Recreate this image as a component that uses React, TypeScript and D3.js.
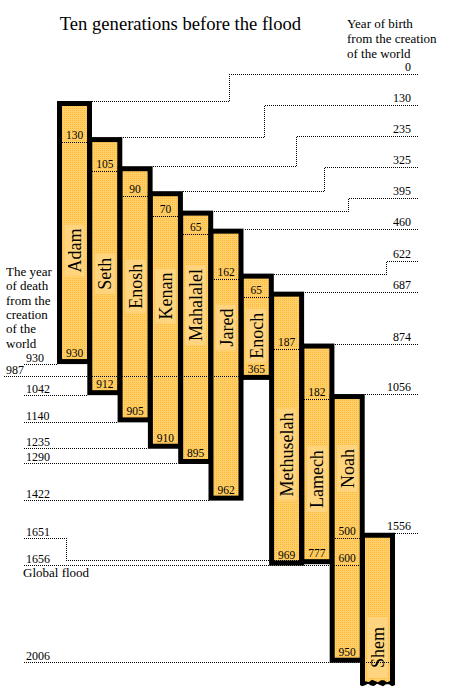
import React from "react";
import * as d3 from "d3";

// ---- data ----
const names = ["Adam", "Seth", "Enosh", "Kenan", "Mahalalel", "Jared", "Enoch", "Methuselah", "Lamech", "Noah", "Shem"];
const birthYears = [0, 130, 235, 325, 395, 460, 622, 687, 874, 1056, 1556];
const lifespans: (number | null)[] = [930, 912, 905, 910, 895, 962, 365, 969, 777, 950, null];
const ageAtSonBirth: (number | null)[] = [130, 105, 90, 70, 65, 162, 65, 187, 182, 500, null];
const birthTicks = [0, 130, 235, 325, 395, 460, 622, 687, 874, 1056, 1556];
const deathTicks = [930, 987, 1042, 1140, 1235, 1290, 1422, 1651, 1656, 2006];
const floodYear = 1656;
const noahAgeAtFlood = 600;
const lastYearShown = 2090;

const titleText = "Ten generations before the flood";
const birthHeader = ["Year of birth", "from the creation", "of the world"];
const deathHeader = ["The year", "of death", "from the", "creation", "of the", "world"];
const floodLabel = "Global flood";

// ---- style ----
const FONT = '"Liberation Serif", "Times New Roman", Times, serif';
const B = 5;
const BAR_W = 35;
const W = 453;
const H = 691;

function measure(text: string, size: number) {
  try {
    const c = document.createElement("canvas").getContext("2d");
    if (!c) throw new Error();
    c.font = `${size}px "Liberation Serif"`;
    return c.measureText(text).width;
  } catch {
    return text.length * size * 0.5;
  }
}

export default function App() {
  const y = d3.scaleLinear().domain([0, lastYearShown]).range([101, 681]);
  const x = d3.scaleLinear().domain([0, names.length - 1]).range([57, 360]);
  const px = (v: number) => Math.round(v) + 0.5;

  const bars = names.map((name, i) => {
    const birth = birthYears[i];
    const life = lifespans[i];
    const death = life == null ? null : birth + life;
    const left = x(i);
    const right = left + BAR_W;
    const top = y(birth);
    const bottom = death == null ? y(lastYearShown) : y(death) + B;
    return {
      name, i, birth, life, death, left, right, top, bottom,
      innerL: left + B, innerR: right - B, innerT: top + B, innerB: bottom - B,
      cx: left + BAR_W / 2,
    };
  });
  const noahIdx = names.indexOf("Noah");
  const lastIdx = names.length - 1;

  // ---- death labels (left) ----
  type DE = { v: number; lineY: number; labelY: number; labelX: number; lineEnd: number; crossing: boolean; stepped: boolean };
  const deaths: DE[] = deathTicks.map((v, k) => {
    const bi = bars.findIndex((b) => b.death === v);
    const bar = bars[bi];
    const crossing = bars.some((b) => b.i < bi && b.top < y(v) && b.bottom > y(v) + B);
    const lineY = px(crossing ? y(v) + 1 : y(v) + B - 0.5);
    let lineEnd = bar.left;
    if (v === floodYear) lineEnd = bars[noahIdx].innerR;
    if (k === deathTicks.length - 1) lineEnd = bars[lastIdx].innerR;
    return { v, lineY, labelY: lineY, labelX: 26, lineEnd, crossing, stepped: false };
  });
  for (let k = deaths.length - 2; k >= 0; k--) {
    if (deaths[k + 1].labelY - deaths[k].labelY < 10) {
      deaths[k].labelY = deaths[k + 1].labelY - 27;
      deaths[k].stepped = true;
    }
  }
  for (let k = 1; k < deaths.length; k++) {
    if (deaths[k].labelY - deaths[k - 1].labelY < 14) deaths[k].labelX = 6;
  }
  const floodLineY = px(y(floodYear) + B - 0.5);
  const cuts = deaths
    .filter((d) => d.crossing || d.v === floodYear)
    .map((d) => ({ y: d.lineY, xEnd: d.lineEnd }));

  // ---- birth labels (right) ----
  const lineEndX = 418;
  const births = birthTicks.map((v) => {
    const bar = bars[bars.findIndex((b) => b.birth === v)];
    const topY = px(bar.top);
    return { v, bar, topY, labelY: topY, stepX: 0 };
  });
  for (let k = births.length - 2; k >= 0; k--) {
    births[k].labelY = Math.min(births[k].topY, births[k + 1].labelY - 31);
  }
  births.forEach((b, k) => {
    b.stepX = px(b.bar.right + (lineEndX - b.bar.right) * (0.42 + 0.06 * k));
  });

  // ---- name boxes ----
  const nameBoxes = bars.map((bar) => {
    const textLen = measure(bar.name, 18);
    const boxH = textLen + 8;
    const sonLine = bar.i < names.length - 1 && ageAtSonBirth[bar.i] != null ? bars[bar.i + 1].innerT : null;
    const regionTop = sonLine ?? bar.innerT;
    let regionBottom = bar.innerB;
    cuts.forEach((c) => {
      if (c.xEnd > bar.cx && c.y > regionTop && c.y < regionBottom) regionBottom = c.y;
    });
    let cy: number;
    let h = boxH;
    if (bar.death == null) {
      h = boxH + 12;
      cy = bar.innerB - h / 2 + 2;
    } else if (regionBottom - regionTop < boxH + 10 && sonLine != null) cy = (bar.innerT + sonLine) / 2;
    else cy = (regionTop + regionBottom) / 2;
    return { bar, cy, boxH: h };
  });

  const dot = { stroke: "#000", strokeWidth: 1, strokeDasharray: "1 1", fill: "none", shapeRendering: "crispEdges" as const };

  // Shem wavy bottom
  const shem = bars[lastIdx];
  const wave = (xl: number, xr: number, yb: number, amp: number) => {
    const pts: string[] = [];
    let k = 0;
    for (let xx = xr; xx > xl; xx -= 3, k++) pts.push(`L${xx},${(yb + amp * Math.sin(k * 1.9)).toFixed(1)}`);
    pts.push(`L${xl},${yb}`);
    return pts.join("");
  };
  const shemOuter = `M${shem.left},${shem.top}H${shem.right}V${shem.bottom + 4}${wave(shem.left, shem.right, shem.bottom + 4, 1.3)}Z`;
  const shemInner = `M${shem.innerL},${shem.innerT}H${shem.innerR}V${shem.bottom}${wave(shem.innerL, shem.innerR, shem.bottom, 1.3)}Z`;

  return (
    <svg width={W} height={H} style={{ position: "absolute", left: 0, top: 0, display: "block", background: "#fff" }} fontFamily={FONT}>
      <defs>
        <pattern id="dots" width={2} height={2} patternUnits="userSpaceOnUse">
          <rect width={2} height={2} fill="#FFD06A" />
          <rect width={1} height={1} fill="#FFB838" />
        </pattern>
      </defs>
      <rect width={W} height={H} fill="#fff" />

      <text x={180.5} y={30} fontSize={18.6} textAnchor="middle" fill="#000">{titleText}</text>
      {birthHeader.map((t, k) => (
        <text key={t} x={347} y={28 + k * 15} fontSize={13} fill="#000">{t}</text>
      ))}
      {deathHeader.map((t, k) => (
        <text key={t} x={6} y={276 + k * 14.3} fontSize={13} fill="#000">{t}</text>
      ))}

      {/* bars */}
      {bars.map((b) =>
        b.death == null ? (
          <g key={b.name}>
            <path d={shemOuter} fill="#000" />
            <path d={shemInner} fill="url(#dots)" />
          </g>
        ) : (
          <g key={b.name}>
            <rect x={b.left} y={b.top} width={BAR_W} height={b.bottom - b.top} fill="#000" />
            <rect x={b.innerL} y={b.innerT} width={b.innerR - b.innerL} height={b.innerB - b.innerT} fill="url(#dots)" />
          </g>
        )
      )}

      {/* names */}
      {nameBoxes.map(({ bar, cy, boxH }) => (
        <g key={"n" + bar.name}>
          <rect x={bar.cx - 10} y={cy - boxH / 2} width={20} height={boxH} fill="#FFD47E" />
          <text
            transform={`translate(${bar.cx + 0.5},${cy}) rotate(-90)`}
            fontSize={18}
            textAnchor="middle"
            dominantBaseline="central"
            fill="#000"
          >
            {bar.name}
          </text>
        </g>
      ))}

      {/* age at son's birth */}
      {bars.map((b) => {
        const a = ageAtSonBirth[b.i];
        if (a == null || b.i >= lastIdx) return null;
        const ly = px(bars[b.i + 1].innerT);
        return (
          <g key={"s" + b.name}>
            <line x1={b.innerL} x2={b.innerR} y1={ly} y2={ly} {...dot} />
            <text x={b.cx} y={ly - 4} fontSize={11.5} textAnchor="middle" fill="#000">{a}</text>
          </g>
        );
      })}
      {/* Noah at flood */}
      <text x={bars[noahIdx].cx} y={floodLineY - 4} fontSize={11.5} textAnchor="middle" fill="#000">{noahAgeAtFlood}</text>

      {/* lifespans */}
      {bars.map((b) =>
        b.life == null || b.death == null ? null : (
          <text key={"l" + b.name} x={b.cx} y={y(b.death) - 2} fontSize={11.5} textAnchor="middle" fill="#000">{b.life}</text>
        )
      )}

      {/* birth labels */}
      {births.map((b) => (
        <g key={"b" + b.v}>
          <path
            d={b.labelY < b.topY - 0.5
              ? `M${lineEndX},${b.labelY}H${b.stepX}V${b.topY}H${b.bar.right}`
              : `M${lineEndX},${b.topY}H${b.bar.right}`}
            {...dot}
          />
          <text x={411} y={b.labelY - 4} fontSize={12} textAnchor="end" fill="#000">{b.v}</text>
        </g>
      ))}

      {/* death labels */}
      {deaths.map((d) => (
        <g key={"d" + d.v}>
          <path
            d={d.stepped
              ? `M${d.labelX - 2},${d.labelY}H66.5V${d.lineY}H${d.lineEnd}`
              : `M${d.labelX - 2},${d.lineY}H${d.lineEnd}`}
            {...dot}
          />
          <text x={d.labelX} y={d.labelY - 3} fontSize={12} fill="#000">{d.v}</text>
        </g>
      ))}
      <text x={23} y={floodLineY + 11} fontSize={13} fill="#000">{floodLabel}</text>
    </svg>
  );
}
